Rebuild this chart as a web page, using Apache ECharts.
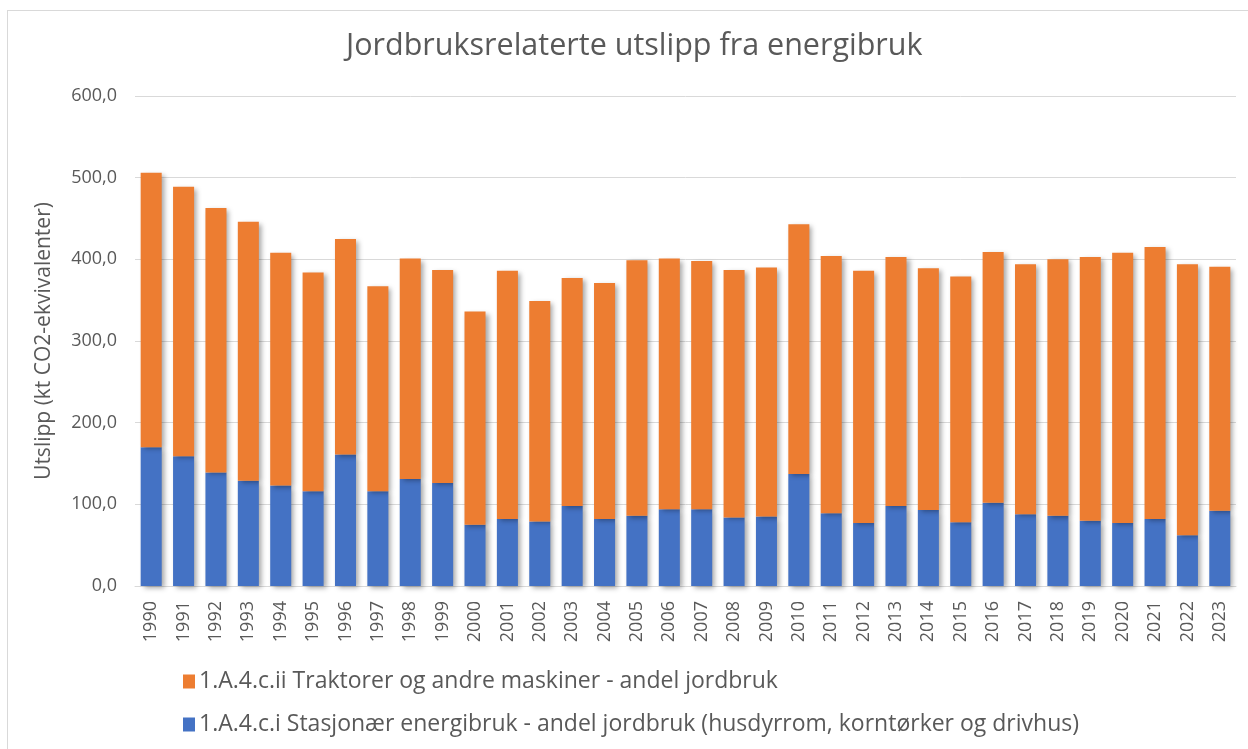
<!DOCTYPE html>
<html>
<head>
<meta charset="utf-8">
<script src="https://cdn.jsdelivr.net/npm/echarts@6/dist/echarts.min.js"></script>
<style>
html, body { margin: 0; padding: 0; background: #fff; }
#frame { position: absolute; left: 7px; top: 10px; width: 1250px; height: 760px; border: 1px solid #d9d9d9; box-sizing: border-box; }
#chart { position: absolute; left: 0; top: 0; width: 1248px; height: 749px; }
</style>
</head>
<body>
<div id="frame"></div>
<div id="chart"></div>
<script>
var years = ['1990','1991','1992','1993','1994','1995','1996','1997','1998','1999',
	'2000','2001','2002','2003','2004','2005','2006','2007','2008','2009',
	'2010','2011','2012','2013','2014','2015','2016','2017','2018','2019',
	'2020','2021','2022','2023'];

// stasjonær energibruk (blå)
var stasjonaer = [170, 159, 139, 129, 123, 116, 161, 116, 131, 126,
	75, 82, 79, 98, 82, 86, 94, 94, 84, 85,
	137, 89, 77, 98, 93, 78, 102, 88, 86, 80,
	77, 82, 62, 92];

// traktorer og maskiner (oransje)
var traktorer = [336, 330, 324, 317, 285, 268, 264, 251, 270, 261,
	261, 304, 270, 279, 289, 313, 307, 304, 303, 305,
	306, 315, 309, 305, 296, 301, 307, 306, 314, 323,
	331, 333, 332, 299];

var seriesNames = [
	'1.A.4.c.ii Traktorer og andre maskiner - andel jordbruk',
	'1.A.4.c.i Stasjonær energibruk - andel jordbruk (husdyrrom, korntørker og drivhus)'
];

var textColor = '#595959';
var fontName = '"Open Sans", "Noto Sans", sans-serif';
var barShadow = {
	shadowColor: 'rgba(0,0,0,0.35)',
	shadowBlur: 5,
	shadowOffsetX: 3,
	shadowOffsetY: 2
};

var chart = echarts.init(document.getElementById('chart'));
chart.setOption({
	animation: false,
	textStyle: { fontFamily: fontName },
	title: {
		text: 'Jordbruksrelaterte utslipp fra energibruk',
		left: 341,
		top: 26,
		textStyle: { fontFamily: fontName, fontSize: 30.5, fontWeight: 'normal', color: textColor }
	},
	legend: {
		orient: 'vertical',
		left: 178,
		top: 665,
		itemGap: 20,
		itemWidth: 12,
		itemHeight: 14,
		icon: 'rect',
		data: [seriesNames[0], seriesNames[1]],
		textStyle: { fontFamily: fontName, fontSize: 23, color: textColor, padding: [0, 0, 0, -1] }
	},
	grid: {
		left: 135,
		right: 12,
		top: 96,
		bottom: 163,
		containLabel: false
	},
	xAxis: {
		type: 'category',
		data: years,
		axisLine: { lineStyle: { color: '#d9d9d9', width: 1 } },
		axisTick: { show: false },
		axisLabel: { rotate: 90, color: textColor, fontSize: 18, margin: 15 }
	},
	yAxis: {
		type: 'value',
		min: 0,
		max: 600,
		interval: 100,
		name: 'Utslipp (kt CO2-ekvivalenter)',
		nameLocation: 'middle',
		nameGap: 80,
		nameTextStyle: { color: textColor, fontSize: 21 },
		axisLine: { show: false },
		axisTick: { show: false },
		splitLine: { lineStyle: { color: '#d9d9d9', width: 1 } },
		axisLabel: {
			color: textColor,
			fontSize: 18,
			margin: 18,
			formatter: function(v) { return v.toFixed(1).replace('.', ','); }
		}
	},
	series: [{
		name: seriesNames[1],
		type: 'bar',
		stack: 'total',
		data: stasjonaer,
		barCategoryGap: '35%',
		itemStyle: Object.assign({ color: '#4472C4' }, barShadow)
	}, {
		name: seriesNames[0],
		type: 'bar',
		stack: 'total',
		data: traktorer,
		barCategoryGap: '35%',
		itemStyle: Object.assign({ color: '#ED7D31' }, barShadow)
	}]
});
</script>
</body>
</html>
